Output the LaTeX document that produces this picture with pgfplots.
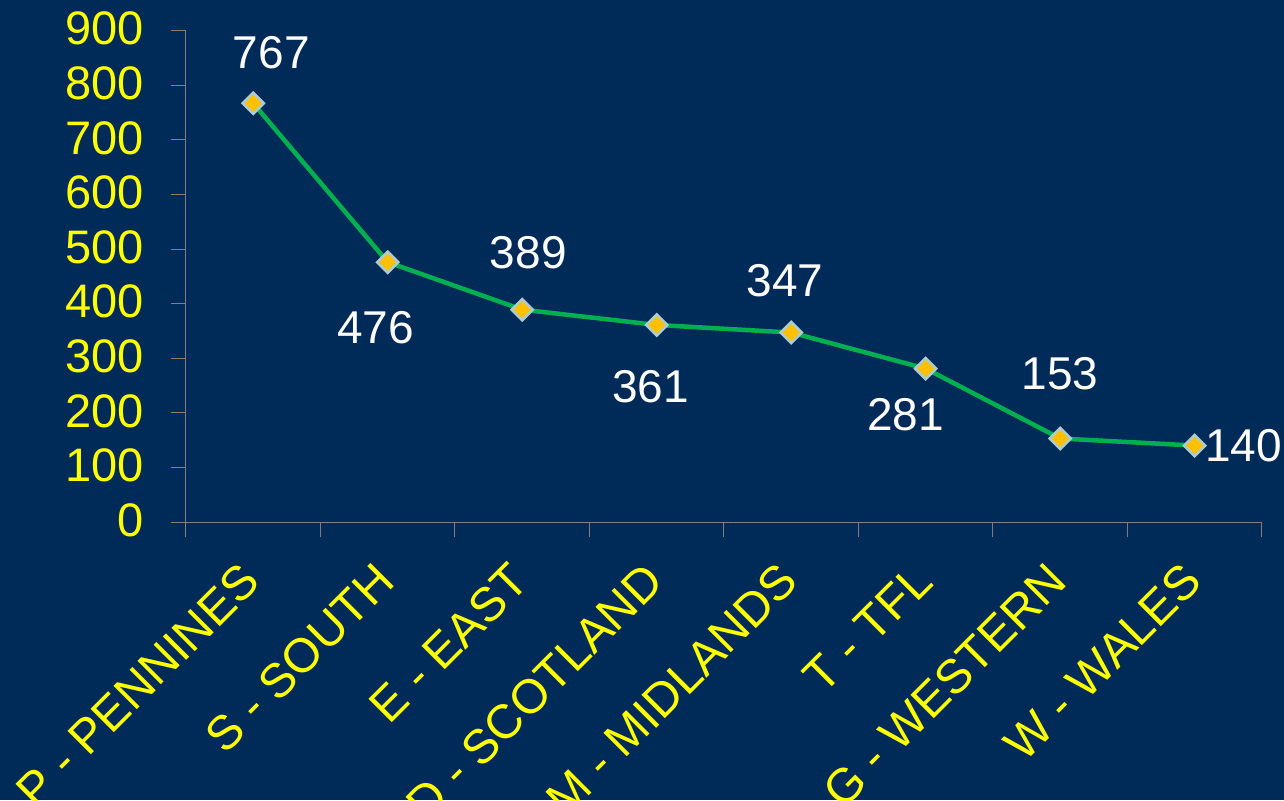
\documentclass[border=0pt]{standalone}
\usepackage{pgfplots}
\pgfplotsset{compat=1.18}
\usepackage{fontspec}
\setmainfont{Liberation Sans}
\definecolor{bg}{RGB}{0,42,87}
\definecolor{ylw}{RGB}{255,255,0}
\definecolor{lgreen}{RGB}{0,176,80}
\definecolor{mfill}{RGB}{255,192,0}
\definecolor{medge}{RGB}{170,205,212}
\definecolor{axgray}{RGB}{128,128,128}
\pgfplotstableread{
x y dx dy
0 767 18 51
1 476 -12 -66
2 389 6 57
3 361 -6 -62
4 347 -6 52
5 281 -20 -46
6 153 0 65
7 140 49 0
}\datatable
\begin{document}
\begin{tikzpicture}
\fill[bg] (-186pt,-278pt) rectangle (1098pt,522pt);
\useasboundingbox (-186pt,-278pt) rectangle (1098pt,522pt);
\begin{axis}[
  at={(0pt,0pt)}, anchor=south west,
  scale only axis, width=1076pt, height=491.3pt,
  xmin=-0.5, xmax=7.5, ymin=0, ymax=900,
  clip=false,
  axis x line*=bottom, axis y line*=left,
  axis line style={draw=axgray, line width=1pt},
  tick align=outside,
  tick style={draw=axgray, line width=1pt},
  major tick length=15pt, minor tick length=15pt,
  xtick={0,...,7},
  xticklabels={P - PENNINES, S - SOUTH, E - EAST, D - SCOTLAND, M - MIDLANDS, T - TFL, G - WESTERN, W - WALES},
  major x tick style={draw=none},
  minor xtick={-0.5,0.5,...,7.5},
  ytick={0,100,...,900},
  /pgf/number format/assume math mode=true,
  yticklabel style={font=\fontsize{47}{50}\selectfont, text=ylw, anchor=east, xshift=-24pt, yshift=2pt},
  xticklabel style={xshift=0pt, yshift=-33pt, font=\fontsize{48}{52}\selectfont, text=ylw, rotate=45, anchor=east},
]
\addplot[lgreen, line width=4.5pt, mark=square*,
  mark size=7.5pt,
  mark options={rotate=45, fill=mfill, draw=medge, line width=2.5pt},
  point meta=y,
  nodes near coords,
  visualization depends on={\thisrow{dx}\as\dx},
  visualization depends on={\thisrow{dy}\as\dy},
  nodes near coords style={anchor=center, xshift=\dx pt, yshift=\dy pt, text=white, font=\fontsize{46}{50}\selectfont},
] table[x=x, y=y] {\datatable};
\end{axis}
\end{tikzpicture}
\end{document}
